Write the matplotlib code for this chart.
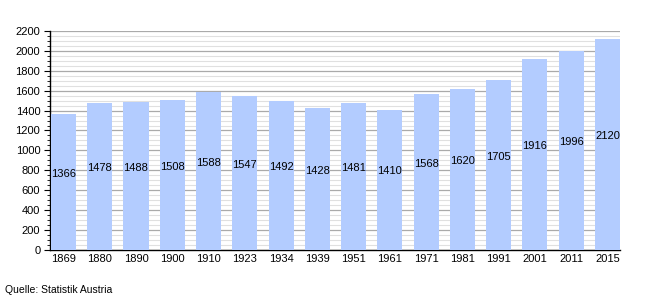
import matplotlib
matplotlib.use("Agg")
import matplotlib.pyplot as plt
from matplotlib.ticker import MultipleLocator

years = ["1869", "1880", "1890", "1900", "1910", "1923", "1934", "1939",
         "1951", "1961", "1971", "1981", "1991", "2001", "2011", "2015"]
population = [1366, 1478, 1488, 1508, 1588, 1547, 1492, 1428,
              1481, 1410, 1568, 1620, 1705, 1916, 1996, 2120]

plt.rcParams['font.family'] = ['Liberation Sans', 'DejaVu Sans']

fig = plt.figure(figsize=(6.5, 3.0), dpi=100)
ax = fig.add_axes([0.077, 0.1667, 0.877, 0.7303])

x = list(range(len(years)))
ax.bar(x, population, width=0.69, color="#b3ccff", zorder=3)
for xi, v in zip(x, population):
    ax.annotate(str(v), (xi, v / 2), xytext=(0, 6), textcoords="offset points",
                ha="center", va="center", fontsize=8, color="black", zorder=4)

ax.set_xlim(-0.37, len(years) - 1 + 0.35)
ax.set_ylim(0, 2200)
ax.yaxis.set_major_locator(MultipleLocator(200))
ax.yaxis.set_minor_locator(MultipleLocator(50))
ax.grid(which="major", axis="y", color="#aaaaaa", linewidth=0.9, zorder=0)
ax.grid(which="minor", axis="y", color="#e0e0e0", linewidth=0.8, zorder=0)
ax.set_xticks(x)
ax.set_xticklabels(years, fontsize=8)
ax.tick_params(axis="x", length=0, pad=3)
ax.tick_params(axis="y", which="major", length=4, width=0.8, labelsize=8, pad=3)
ax.tick_params(axis="y", which="minor", length=2, width=0.6)
for s in ["top", "right"]:
    ax.spines[s].set_visible(False)
ax.spines["left"].set_linewidth(1.0)
ax.spines["bottom"].set_linewidth(1.0)

fig.text(5 / 650, 1 - 290 / 300, "Quelle: Statistik Austria", fontsize=7.5,
         ha="left", va="center")

fig.savefig("out.png", dpi=100)
